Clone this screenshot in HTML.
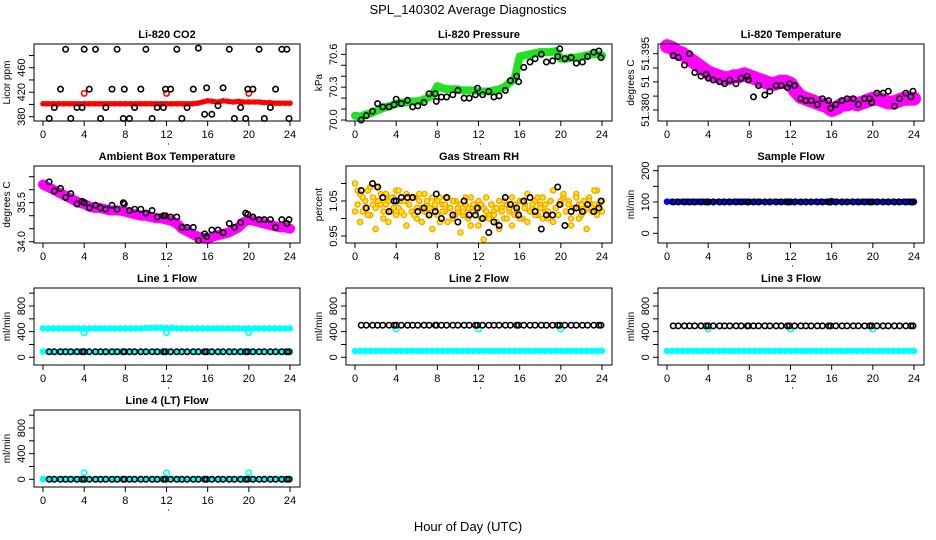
<!DOCTYPE html>
<html><head><meta charset="utf-8"><style>
html,body{margin:0;padding:0;background:#fff;}
svg{display:block;font-family:"Liberation Sans",Arial,sans-serif;}
</style></head><body>
<svg id="chart" width="936" height="540" viewBox="0 0 936 540">
<text x="468" y="14" text-anchor="middle" font-size="13">SPL_140302  Average Diagnostics</text>
<text x="468" y="531" text-anchor="middle" font-size="13">Hour of Day (UTC)</text>
</svg>
<script>
const xTicks=[0,4,8,12,16,20,24];
const cTimes=[0,0.5,1,1.5,2,2.5,3,3.5,4,4.5,5,5.5,6,6.5,7,7.5,8,8.5,9,9.5,10,10.5,11,11.5,12,12.5,13,13.5,14,14.5,15,15.5,16,16.5,17,17.5,18,18.5,19,19.5,20,20.5,21,21.5,22,22.5,23,23.5,24];
const blackTimes=[0.6,1.1,1.7,2.2,2.7,3.3,3.8,4.0,4.5,5.1,5.6,6.1,6.7,7.2,7.8,7.9,8.4,8.9,9.5,10.0,10.6,11.1,11.7,11.9,12.4,13.0,13.5,14.0,14.6,15.1,15.7,15.9,16.4,17.0,17.5,18.1,18.6,19.2,19.7,19.9,20.4,21.0,21.5,22.1,22.6,23.2,23.7,23.9];
const fineTimes=[0,0.25,0.5,0.75,1,1.25,1.5,1.75,2,2.25,2.5,2.75,3,3.25,3.5,3.75,4,4.25,4.5,4.75,5,5.25,5.5,5.75,6,6.25,6.5,6.75,7,7.25,7.5,7.75,8,8.25,8.5,8.75,9,9.25,9.5,9.75,10,10.25,10.5,10.75,11,11.25,11.5,11.75,12,12.25,12.5,12.75,13,13.25,13.5,13.75,14,14.25,14.5,14.75,15,15.25,15.5,15.75,16,16.25,16.5,16.75,17,17.25,17.5,17.75,18,18.25,18.5,18.75,19,19.25,19.5,19.75,20,20.25,20.5,20.75,21,21.25,21.5,21.75,22,22.25,22.5,22.75,23,23.25,23.5,23.75,24];
const spikeTimes=[4,12,20];

const co2Red=[401,401,401,401,401,401,401,401,401,401,401,401,401,401,401,401,401,401,401,401,401,401,401,401,401,401,401,401,401,401,402,404,406,405,404,406,405,404,405,404,404,404,404,403,403,402,402,402,402];
const co2RedSpikes=[418,418,418];
const co2Black=[377,395,425,490,377,395,395,490,425,490,377,395,425,490,377,425,377,395,425,490,377,395,395,425,425,490,377,395,425,492,384,427,384,398,427,490,377,395,377,425,425,490,377,395,425,490,490,377];

const presGreen=[70.04,70.03,70.05,70.06,70.08,70.10,70.12,70.13,70.15,70.16,70.16,70.17,70.17,70.18,70.20,70.22,70.31,70.29,70.28,70.28,70.28,70.27,70.27,70.27,70.26,70.26,70.26,70.27,70.28,70.30,70.34,70.37,70.58,70.59,70.60,70.61,70.62,70.62,70.62,70.63,70.56,70.56,70.57,70.57,70.58,70.59,70.60,70.60,70.59];
const presBlack=[70.0,70.04,70.08,70.15,70.12,70.12,70.14,70.19,70.15,70.18,70.12,70.13,70.16,70.24,70.24,70.17,70.21,70.21,70.23,70.27,70.20,70.20,70.23,70.29,70.23,70.26,70.21,70.22,70.27,70.36,70.40,70.35,70.48,70.53,70.56,70.60,70.53,70.54,70.58,70.65,70.56,70.57,70.52,70.53,70.58,70.62,70.63,70.57];

const liTempMag=[51.3970,51.3965,51.3955,51.3950,51.3940,51.3930,51.3920,51.3910,51.3900,51.3895,51.3890,51.3885,51.3885,51.3890,51.3890,51.3895,51.3890,51.3885,51.3880,51.3875,51.3870,51.3870,51.3875,51.3875,51.3870,51.3850,51.3835,51.3830,51.3825,51.3820,51.3815,51.3810,51.3800,51.3805,51.3815,51.3815,51.3820,51.3815,51.3820,51.3825,51.3830,51.3830,51.3825,51.3820,51.3820,51.3825,51.3830,51.3830,51.3830];
const liTempBlack=[51.3945,51.3940,51.3920,51.3950,51.3900,51.3890,51.3895,51.3885,51.3880,51.3875,51.3870,51.3880,51.3870,51.3885,51.3890,51.3880,51.3835,51.3865,51.3840,51.3850,51.3865,51.3865,51.3860,51.3870,51.3865,51.3830,51.3825,51.3825,51.3815,51.3830,51.3825,51.3805,51.3815,51.3825,51.3830,51.3830,51.3815,51.3830,51.3830,51.3820,51.3845,51.3845,51.3850,51.3810,51.3830,51.3845,51.3835,51.3850];

const ambMag=[36.2,36.1,36.0,35.9,35.8,35.7,35.6,35.5,35.45,35.35,35.3,35.3,35.25,35.2,35.2,35.2,35.15,35.1,35.05,35.0,35.0,34.95,34.9,34.9,34.85,34.8,34.7,34.5,34.4,34.3,34.2,34.15,34.1,34.2,34.25,34.3,34.35,34.45,34.55,34.75,34.85,34.8,34.75,34.7,34.65,34.6,34.55,34.55,34.5];
const ambBlack=[36.3,35.95,36.05,35.7,35.85,35.45,35.55,35.5,35.3,35.4,35.3,35.25,35.4,35.25,35.5,35.45,35.2,35.25,35.25,35.1,35.2,34.95,35.0,35.0,34.95,34.95,34.55,34.55,34.55,34.05,34.3,34.2,34.45,34.45,34.35,34.7,34.55,34.75,35.1,35.05,34.95,34.85,34.85,34.85,34.55,34.85,34.7,34.85];

const rhA=[1.10,1.04,1.07,1.02,1.05,1.08,1.01,1.06,1.03,1.09,1.04,1.00,1.07,1.05,1.02,1.06,1.08,1.03,1.05,1.01,1.07,1.04,1.02,1.06,1.00,1.05,1.03,1.07,1.04,1.01,1.06,1.03,1.05,0.99,1.04,1.02,1.06,1.03,1.00,1.05,1.02,1.04,1.01,1.06,1.03,0.98,1.04,1.02,1.05,1.00,1.03,1.06,1.01,1.04,1.02,0.99,1.05,1.03,1.00,1.04,1.02,1.06,1.01,1.03,1.05,1.00,1.04,1.07,1.02,1.03,1.05,1.01,1.04,1.06,1.02,1.00,1.05,1.08,1.03,1.01,1.04,1.06,1.02,1.05,1.00,1.03,1.07,1.04,1.01,1.05,1.03,1.06,1.02,1.04,1.08,1.03,1.05];
const rhB=[1.02,1.08,0.99,1.06,1.03,1.01,1.09,1.04,0.97,1.05,1.07,1.02,1.04,0.99,1.06,1.03,1.01,1.08,1.02,1.05,0.98,1.04,1.06,1.01,1.03,1.07,0.99,1.02,1.05,1.03,0.97,1.04,1.01,1.06,1.02,1.04,0.99,1.03,1.05,1.01,1.03,0.96,1.02,1.04,1.00,1.06,1.02,1.03,0.98,1.04,0.94,1.02,1.00,1.04,1.01,1.03,0.97,1.02,1.05,1.00,1.03,0.98,1.04,1.02,1.00,1.05,1.03,0.99,1.02,1.04,1.01,1.06,1.03,1.00,1.04,1.02,1.05,0.99,1.03,1.01,1.05,1.07,1.02,1.04,0.98,1.03,1.06,1.00,1.04,1.02,0.97,1.05,1.03,1.08,1.01,1.04,1.02];
const rhBlack=[1.08,1.03,1.10,1.09,1.06,1.02,1.05,1.05,1.06,1.06,1.06,1.02,1.03,1.01,1.02,1.07,1.00,1.06,1.01,0.99,1.05,1.01,1.01,1.03,1.00,0.96,0.99,0.98,1.06,1.04,1.03,1.01,1.05,1.06,1.02,0.97,1.01,1.01,1.09,1.04,0.98,1.02,1.03,1.02,1.04,1.02,1.03,1.05];

const sampleBlue=[101,101,101,101,101,101,101,101,101,101,101,101,101,101,101,101,101,101,101,101,101,101,101,101,101,101,101,101,101,101,101,101,103,101,101,101,101,101,101,101,101,101,101,101,101,101,101,101,101];
const sampleBlack=[100,100,100,100,100,100,100,100,100,100,100,100,100,100,100,100,100,100,100,100,100,100,100,100,100,100,100,100,100,100,100,100,100,100,100,100,100,100,100,100,100,100,100,100,100,100,100,100];

const line1High=[450,450,451,451,451,451,451,451,451,451,451,451,451,451,451,451,451,451,451,451,455,457,458,458,456,457,452,451,451,451,451,451,451,451,451,451,451,451,451,451,451,451,451,451,451,451,451,451,451];
const line1Low=[90,90,88,88,88,88,88,88,88,88,88,88,88,88,88,88,88,88,88,88,88,88,88,88,88,88,88,88,88,88,88,88,88,88,88,88,88,88,88,88,88,88,88,88,88,88,88,88,88];
const line1Spikes=[385,385,385];
const line1Black=[85,85,85,85,85,85,85,85,85,85,85,85,85,85,85,85,85,85,85,85,85,85,85,85,85,85,85,85,85,85,85,85,85,85,85,85,85,85,85,85,85,85,85,85,85,85,85,85];

const line2Low=[100,100,100,100,100,100,100,100,100,100,100,100,100,100,100,100,100,100,100,100,100,100,100,100,100,100,100,100,100,100,100,100,100,100,100,100,100,100,100,100,100,100,100,100,100,100,100,100,100];
const line2Spikes=[440,440,440];
const line2Black=[500,500,500,500,500,500,500,500,500,500,500,500,500,500,500,500,500,500,500,500,500,500,500,500,500,500,500,500,500,500,500,500,500,500,500,500,500,500,500,500,500,500,500,500,500,500,500,500];

const line3Low=[100,100,100,100,100,100,100,100,100,100,100,100,100,100,100,100,100,100,100,100,100,100,100,100,100,100,100,100,100,100,100,100,100,100,100,100,100,100,100,100,100,100,100,100,100,100,100,100,100];
const line3Spikes=[440,440,440];
const line3Black=[490,490,490,490,490,490,490,490,490,490,490,490,490,490,490,490,490,490,490,490,490,490,490,490,490,490,490,490,490,490,490,490,490,490,490,490,490,490,490,490,490,490,490,490,490,490,490,490];

const line4Cyan=[5,5,5,5,5,5,5,5,5,5,5,5,5,5,5,5,5,5,5,5,5,5,5,5,5,5,5,5,5,5,5,5,5,5,5,5,5,5,5,5,5,5,5,5,5,5,5,5,5];
const line4Spikes=[100,100,100];
const line4Black=[0,0,0,0,0,0,0,0,0,0,0,0,0,0,0,0,0,0,0,0,0,0,0,0,0,0,0,0,0,0,0,0,0,0,0,0,0,0,0,0,0,0,0,0,0,0,0,0];

const NS='http://www.w3.org/2000/svg';
const svg=document.getElementById('chart');
const colLeft=[34,346,658], rowTop=[44,166,288,410], boxW=266, boxH=77;
function mk(tag,attrs,parent){const e=document.createElementNS(NS,tag);for(const k in attrs)e.setAttribute(k,attrs[k]);(parent||svg).appendChild(e);return e;}

function panel(p){
  const L=colLeft[p.col],T=rowTop[p.row];
  const g=mk('g',{});
  
  
  const xs=t=>L+9+t*247/24;
  const ys=v=>T+p.ya[1]+(v-p.ya[0])*(p.yb[1]-p.ya[1])/(p.yb[0]-p.ya[0]);
  // series
  p.series.forEach(s=>{
    const sg=mk('g',{},g);
    
    
    const n=Math.min(s.t.length,s.v.length);
    if(s.band){
      let pts=[];for(let i=0;i<n;i++)pts.push(xs(s.t[i]).toFixed(1)+','+ys(s.v[i]).toFixed(1));
      mk('polyline',{points:pts.join(' '),fill:'none',stroke:s.color,'stroke-width':s.band,'stroke-linejoin':'round','stroke-linecap':'round'},sg);
    }
    for(let i=0;i<n;i++){
      const c=mk('circle',{cx:xs(s.t[i]).toFixed(1),cy:ys(s.v[i]).toFixed(1),r:s.r||2.7,fill:s.fill||'none',stroke:s.color,'stroke-width':s.sw||1.6},sg);
      
      
    }
  });
  // box
  const b=mk('rect',{x:L,y:T,width:boxW,height:boxH,fill:'none',stroke:'#000','stroke-width':1},g);
  
  
  // title
  const tt=mk('text',{x:L+boxW/2,y:T-6,'text-anchor':'middle','font-size':11,'font-weight':'bold'},g);
  tt.textContent=p.title;
  
  
  // x axis
  mk('line',{x1:xs(0),x2:xs(24),y1:T+boxH,y2:T+boxH,stroke:'#000'},g);
  xTicks.forEach(t=>{
    mk('line',{x1:xs(t),x2:xs(t),y1:T+boxH,y2:T+boxH+5,stroke:'#000'},g);
    const lt=mk('text',{x:xs(t),y:T+boxH+17,'text-anchor':'middle','font-size':11},g);
    lt.textContent=t;
    
    
  });
  mk('circle',{cx:xs(12)+2,cy:T+boxH+23,r:0.6,fill:'#000'},g);
  // y axis
  const y0=ys(p.ticks[0]),y1=ys(p.ticks[p.ticks.length-1]);
  mk('line',{x1:L,x2:L,y1:y0,y2:y1,stroke:'#000'},g);
  p.ticks.forEach((v,i)=>{
    const y=ys(v);
    mk('line',{x1:L-5,x2:L,y1:y,y2:y,stroke:'#000'},g);
    if(p.labels[i]){
      const lt=mk('text',{x:L-9,y:y,'text-anchor':'middle','font-size':11,transform:'rotate(-90 '+(L-9)+' '+y.toFixed(1)+')'},g);
      lt.textContent=p.labels[i];
      
      
    }
  });
  const yl=mk('text',{x:L-24,y:T+boxH/2,'text-anchor':'middle','font-size':10,transform:'rotate(-90 '+(L-24)+' '+(T+boxH/2)+')'},g);
  yl.textContent=p.ylab;
  
  
}

const flowTicks=[0,200,400,600,800,1000], flowLabels=['0','','400','','800',''];
panel({name:'co2',col:0,row:0,title:'Li-820 CO2',ylab:'Licor ppm',ya:[380,72.7],yb:[460,23.7],ticks:[380,400,420,440,460,480],labels:['380','','420','','460',''],
  series:[{name:'co2-red-series',t:cTimes,v:co2Red,color:'#ff0000',band:5,r:2},{name:'co2-red-spikes',t:spikeTimes,v:co2RedSpikes,color:'#ff0000'},{name:'co2-black-points',t:blackTimes,v:co2Black,color:'#000'}]});
panel({name:'pressure',col:1,row:0,title:'Li-820 Pressure',ylab:'kPa',ya:[70.0,76],yb:[70.6,10.3],ticks:[70.0,70.1,70.2,70.3,70.4,70.5,70.6],labels:['70.0','','','70.3','','','70.6'],
  series:[{name:'pressure-green-series',t:cTimes,v:presGreen,color:'#22e022',band:8,r:3},{name:'pressure-black-points',t:blackTimes,v:presBlack,color:'#000'}]});
panel({name:'li-temp',col:2,row:0,title:'Li-820 Temperature',ylab:'degrees C',ya:[51.380,66],yb:[51.395,9.7],ticks:[51.380,51.3837,51.3875,51.3912,51.395],labels:['51.380','','51','','51.395'],
  series:[{name:'li-temp-magenta-series',t:cTimes,v:liTempMag,color:'#ff00ff',band:14,r:3.5},{name:'li-temp-black-points',t:blackTimes,v:liTempBlack,color:'#000'}]});
panel({name:'ambient-temp',col:0,row:1,title:'Ambient Box Temperature',ylab:'degrees C',ya:[34.0,75.7],yb:[35.5,36.7],ticks:[34.0,34.5,35.0,35.5,36.0,36.5],labels:['34.0','','','35.5','',''],
  series:[{name:'ambient-magenta-series',t:cTimes,v:ambMag,color:'#ff00ff',band:10,r:3},{name:'ambient-black-points',t:blackTimes,v:ambBlack,color:'#000'}]});
panel({name:'gas-rh',col:1,row:1,title:'Gas Stream RH',ylab:'percent',ya:[0.95,70],yb:[1.05,35],ticks:[0.95,1.0,1.05,1.10],labels:['0.95','','1.05',''],
  series:[{name:'rh-orange-a',t:fineTimes,v:rhA,color:'#ff9900',fill:'#ffee00',r:2.6,sw:1.3},{name:'rh-orange-b',t:fineTimes,v:rhB,color:'#ff9900',fill:'#ffee00',r:2.6,sw:1.3},{name:'rh-black-points',t:blackTimes,v:rhBlack,color:'#000'}]});
panel({name:'sample-flow',col:2,row:1,title:'Sample Flow',ylab:'ml/min',ya:[0,67.3],yb:[200,4.7],ticks:[0,50,100,150,200],labels:['0','','100','','200'],
  series:[{name:'sample-blue-series',t:cTimes,v:sampleBlue,color:'#0000ff',band:5,r:2.5},{name:'sample-black-points',t:blackTimes,v:sampleBlack,color:'#000'}]});
panel({name:'line1-flow',col:0,row:2,title:'Line 1 Flow',ylab:'ml/min',ya:[0,69.3],yb:[800,18],ticks:flowTicks,labels:flowLabels,
  series:[{name:'line1-cyan-high',t:cTimes,v:line1High,color:'#00ffff',band:5,r:2.5},{name:'line1-cyan-low',t:cTimes,v:line1Low,color:'#00ffff',band:4,r:2.5},{name:'line1-cyan-spikes',t:spikeTimes,v:line1Spikes,color:'#00ffff'},{name:'line1-black-points',t:blackTimes,v:line1Black,color:'#000'}]});
panel({name:'line2-flow',col:1,row:2,title:'Line 2 Flow',ylab:'ml/min',ya:[0,69.3],yb:[800,18],ticks:flowTicks,labels:flowLabels,
  series:[{name:'line2-cyan-low',t:cTimes,v:line2Low,color:'#00ffff',band:5,r:2.5},{name:'line2-cyan-spikes',t:spikeTimes,v:line2Spikes,color:'#00ffff'},{name:'line2-black-points',t:blackTimes,v:line2Black,color:'#000'}]});
panel({name:'line3-flow',col:2,row:2,title:'Line 3 Flow',ylab:'ml/min',ya:[0,69.3],yb:[800,18],ticks:flowTicks,labels:flowLabels,
  series:[{name:'line3-cyan-low',t:cTimes,v:line3Low,color:'#00ffff',band:5,r:2.5},{name:'line3-cyan-spikes',t:spikeTimes,v:line3Spikes,color:'#00ffff'},{name:'line3-black-points',t:blackTimes,v:line3Black,color:'#000'}]});
panel({name:'line4-flow',col:0,row:3,title:'Line 4 (LT) Flow',ylab:'ml/min',ya:[0,69.3],yb:[800,18],ticks:flowTicks,labels:flowLabels,
  series:[{name:'line4-cyan',t:cTimes,v:line4Cyan,color:'#00ffff',band:4,r:2.5},{name:'line4-cyan-spikes',t:spikeTimes,v:line4Spikes,color:'#00ffff'},{name:'line4-black-points',t:blackTimes,v:line4Black,color:'#000'}]});
</script>
</body></html>
